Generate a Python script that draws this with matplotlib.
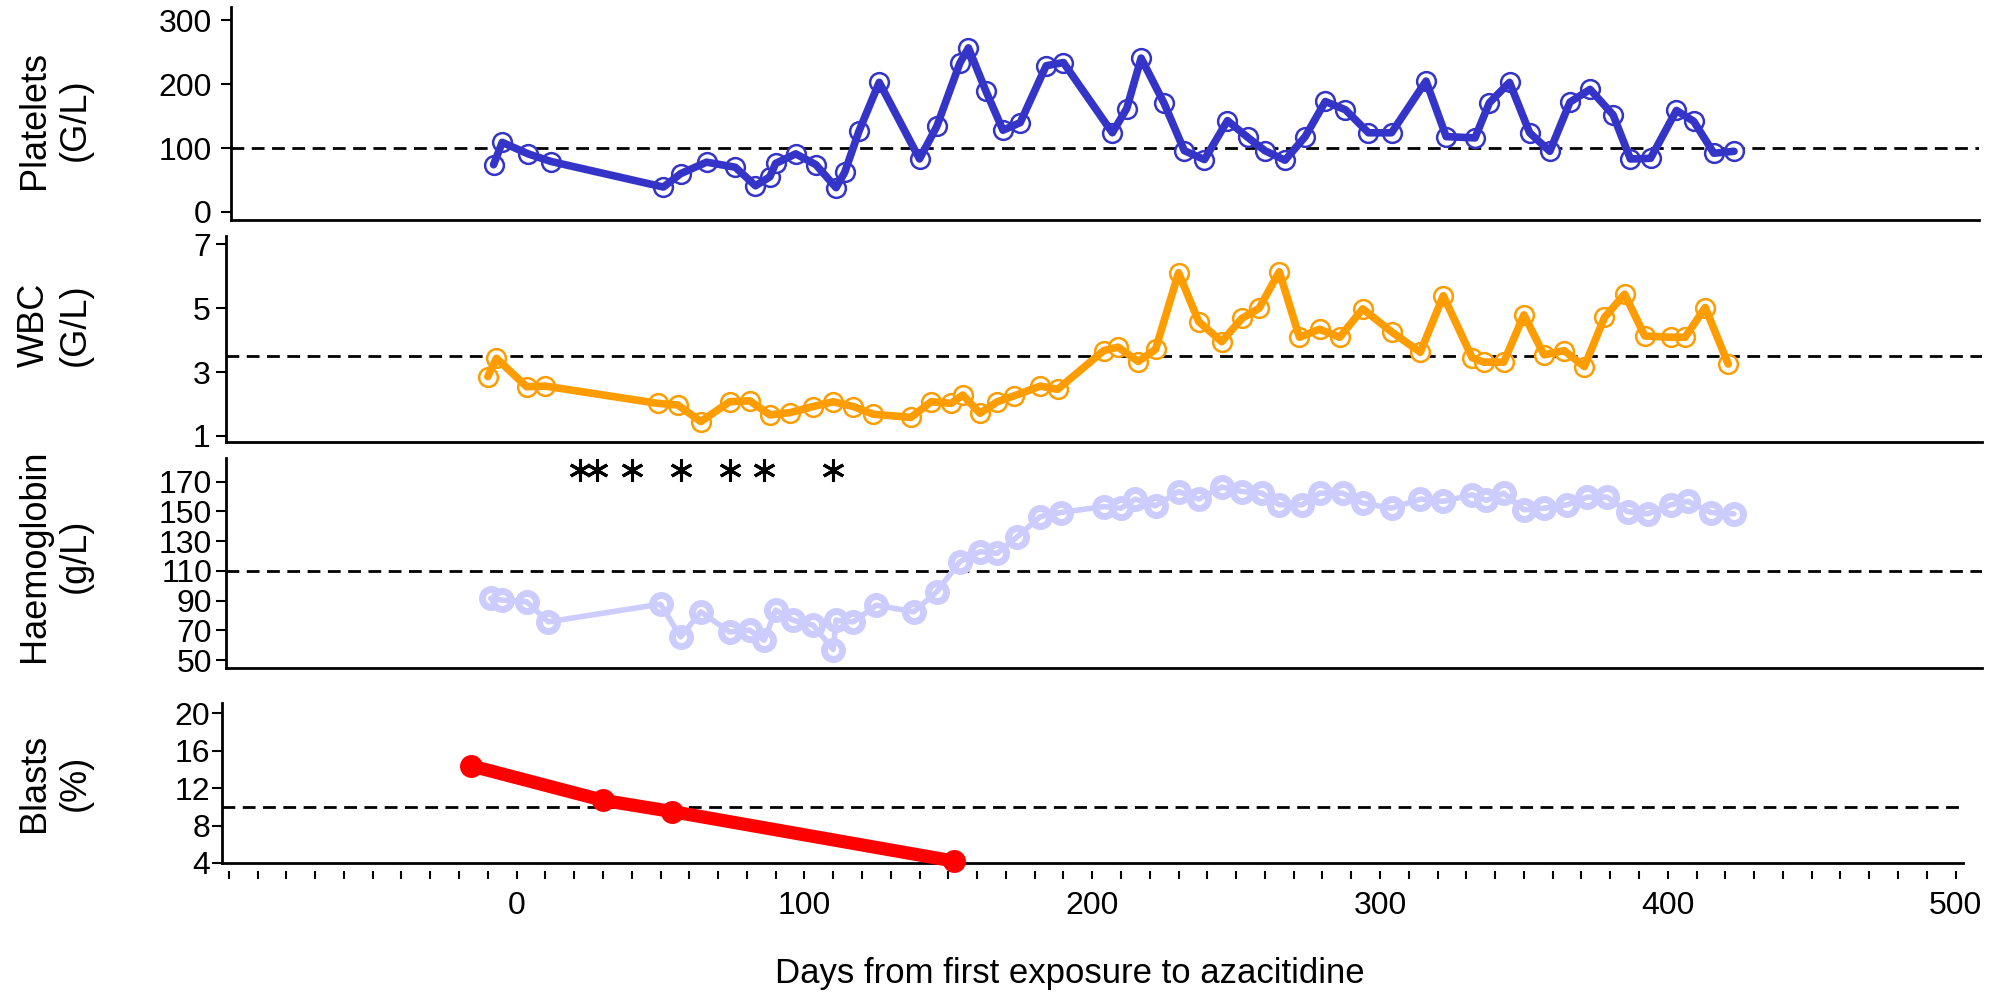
import numpy as np
import matplotlib.pyplot as plt

plt.rcParams['font.family'] = ['Liberation Sans', 'DejaVu Sans']

# Platelets (G/L)
plt_days = [-8, -5, 4, 12, 51, 57, 66, 76, 83, 88, 90, 97, 104, 111, 114, 119, 126,
            140, 146, 154, 157, 163, 169, 175, 184, 190, 207, 212, 217, 225, 232, 239,
            247, 254, 260, 267, 274, 281, 288, 296, 304, 316, 323, 333, 338, 345, 352,
            359, 366, 373, 381, 387, 394, 403, 409, 416, 423]
plt_vals = [74, 109, 91, 79, 39, 60, 78, 70, 41, 55, 76, 91, 74, 38, 62, 127, 203,
            83, 134, 233, 257, 190, 128, 140, 229, 234, 124, 162, 241, 170, 96, 82,
            143, 117, 96, 81, 118, 173, 160, 124, 124, 205, 118, 116, 171, 203, 124,
            95, 172, 192, 152, 83, 84, 159, 142, 92, 95]

# WBC (G/L)
wbc_days = [-10, -7, 3.5, 10, 49, 56, 64, 74, 81, 88, 95, 103, 110, 117, 124, 137,
            144, 151, 155, 161, 167, 173, 182, 188, 204, 209, 216, 222, 230, 237, 245,
            252, 258, 265, 272, 279, 286, 294, 304, 314, 322, 332, 336, 343, 350, 357,
            364, 371, 378, 385, 392, 401, 406, 413, 421]
wbc_vals = [2.86, 3.43, 2.54, 2.56, 2.02, 1.97, 1.45, 2.07, 2.10, 1.66, 1.73, 1.92,
            2.07, 1.92, 1.68, 1.58, 2.07, 2.02, 2.28, 1.71, 2.07, 2.26, 2.56, 2.46,
            3.67, 3.78, 3.33, 3.71, 6.11, 4.58, 3.95, 4.68, 5.0, 6.14, 4.09, 4.34, 4.09,
            4.98, 4.26, 3.62, 5.39, 3.45, 3.31, 3.31, 4.79, 3.54, 3.67, 3.17, 4.71,
            5.44, 4.13, 4.09, 4.09, 5.02, 3.25]

# Haemoglobin (g/L)
hb_days = [-9, -5, 3.5, 11, 50, 57, 64, 74, 81, 86, 90, 96, 103, 110, 111, 117, 125,
           138, 146, 154, 161, 167, 174, 182, 189, 204, 210, 215, 222, 230, 237, 245,
           252, 259, 265, 273, 279, 287, 294, 304, 314, 322, 332, 337, 343, 350, 357,
           365, 372, 379, 386, 393, 401, 407, 415, 423]
hb_vals = [91.5, 90.4, 89.3, 75.8, 87.7, 65.7, 82.5, 69, 70.2, 63.5, 83.7, 76.9, 73.6,
           57.2, 76.9, 75.8, 87, 82.5, 96, 116.2, 122.9, 121.8, 133, 146.5, 149.2,
           153.2, 152.1, 158.2, 153.7, 163.3, 158.2, 166.3, 163.3, 162.2, 154.4, 154.4,
           162.2, 162.2, 155.5, 152.1, 158.2, 156.7, 161.1, 157.3, 162.2, 151, 152.1,
           154.4, 159.5, 159.5, 149.8, 148.3, 154.4, 156.7, 149.2, 148.3]

# Blasts (%)
blast_days = [-16, 30, 54, 152]
blast_vals = [14.4, 10.7, 9.5, 4.2]

# asterisks above the haemoglobin curve
star_days = [22, 28, 40, 57, 74, 86, 110]
star_level = 178

W, H = 2001, 994
fig = plt.figure(figsize=(W / 100, H / 100), dpi=100)


def px_to_day(x):
    return (x - 516.6) / 2.878


def add_panel(left, right, top, bottom, ylim, yticks, pad):
    ax = fig.add_axes([left / W, 1 - bottom / H, (right - left) / W, (bottom - top) / H])
    ax.set_xlim(px_to_day(left), px_to_day(right))
    ax.set_ylim(*ylim)
    ax.set_yticks(yticks)
    for s in ['top', 'right']:
        ax.spines[s].set_visible(False)
    for s in ['left', 'bottom']:
        ax.spines[s].set_linewidth(2)
    ax.tick_params(axis='y', direction='out', length=7, width=1.5, labelsize=23, pad=pad)
    ax.tick_params(axis='x', bottom=False, labelbottom=False)
    ax.patch.set_alpha(0)
    return ax


def ref_line(ax, y):
    ax.axhline(y, color='black', lw=2, ls=(0, (4.6, 2.7)), zorder=1)


def draw_series(ax, days, vals, color, lw, ms, mew):
    ax.plot(days, vals, ls='none', marker='o', ms=ms, mfc='white', mec=color,
            mew=mew, zorder=3)
    ax.plot(days, vals, color=color, lw=lw, solid_joinstyle='round',
            solid_capstyle='round', zorder=4)


def ylabel(y_px, text):
    fig.text(55 / W, 1 - y_px / H, text, rotation=90, ha='center', va='center',
             fontsize=26, linespacing=1.2, multialignment='center')


# Platelets
ax1 = add_panel(231, 1979, 7, 220, (-12.6, 321), [0, 100, 200, 300], 7)
ref_line(ax1, 100)
draw_series(ax1, plt_days, plt_vals, '#3434C8', 5.5, 13.5, 1.8)
ylabel(120, 'Platelets\n(G/L)')

# WBC
ax2 = add_panel(226, 1982, 236, 442, (0.81, 7.26), [1, 3, 5, 7], 4)
ref_line(ax2, 3.5)
draw_series(ax2, wbc_days, wbc_vals, '#FF9C00', 5.5, 13.5, 1.8)
ylabel(325, 'WBC\n(G/L)')

# Haemoglobin
ax3 = add_panel(226, 1982, 458, 668, (44.8, 185.8), [50, 70, 90, 110, 130, 150, 170], 3)
ref_line(ax3, 110)
draw_series(ax3, hb_days, hb_vals, '#CCCCFF', 4, 13, 5)
ax3.plot(star_days, [star_level] * len(star_days), ls='none', marker=(6, 2, 0),
         ms=16, mew=2.2, color='black', zorder=5)
ylabel(556, 'Haemoglobin\n(g/L)')

# Blasts
ax4 = add_panel(222, 1963, 703, 863, (4, 21.1), [4, 8, 12, 16, 20], 1.5)
ref_line(ax4, 10)
ax4.plot(blast_days, blast_vals, color='red', lw=9.5, marker='o', ms=15.5,
         solid_capstyle='round', clip_on=False, zorder=4)
ylabel(783, 'Blasts\n(%)')

# x axis: ticks set below the baseline
ax4.spines['bottom'].set_visible(False)
ax4.spines['bottom'].set_position(('outward', 6))
ax4.axhline(ax4.get_ylim()[0], color='black', lw=2, clip_on=False, zorder=2)
xticks = np.arange(-100, 501, 10)
ax4.set_xticks(xticks)
ax4.set_xticklabels([str(t) if t % 100 == 0 and t >= 0 else '' for t in xticks])
ax4.tick_params(axis='x', bottom=True, labelbottom=True, direction='out',
                length=5.5, width=1.5, labelsize=23, pad=9)

fig.text(1070 / W, 1 - 973 / H, 'Days from first exposure to azacitidine',
         ha='center', va='center', fontsize=25)

fig.savefig('out.png', dpi=100)
